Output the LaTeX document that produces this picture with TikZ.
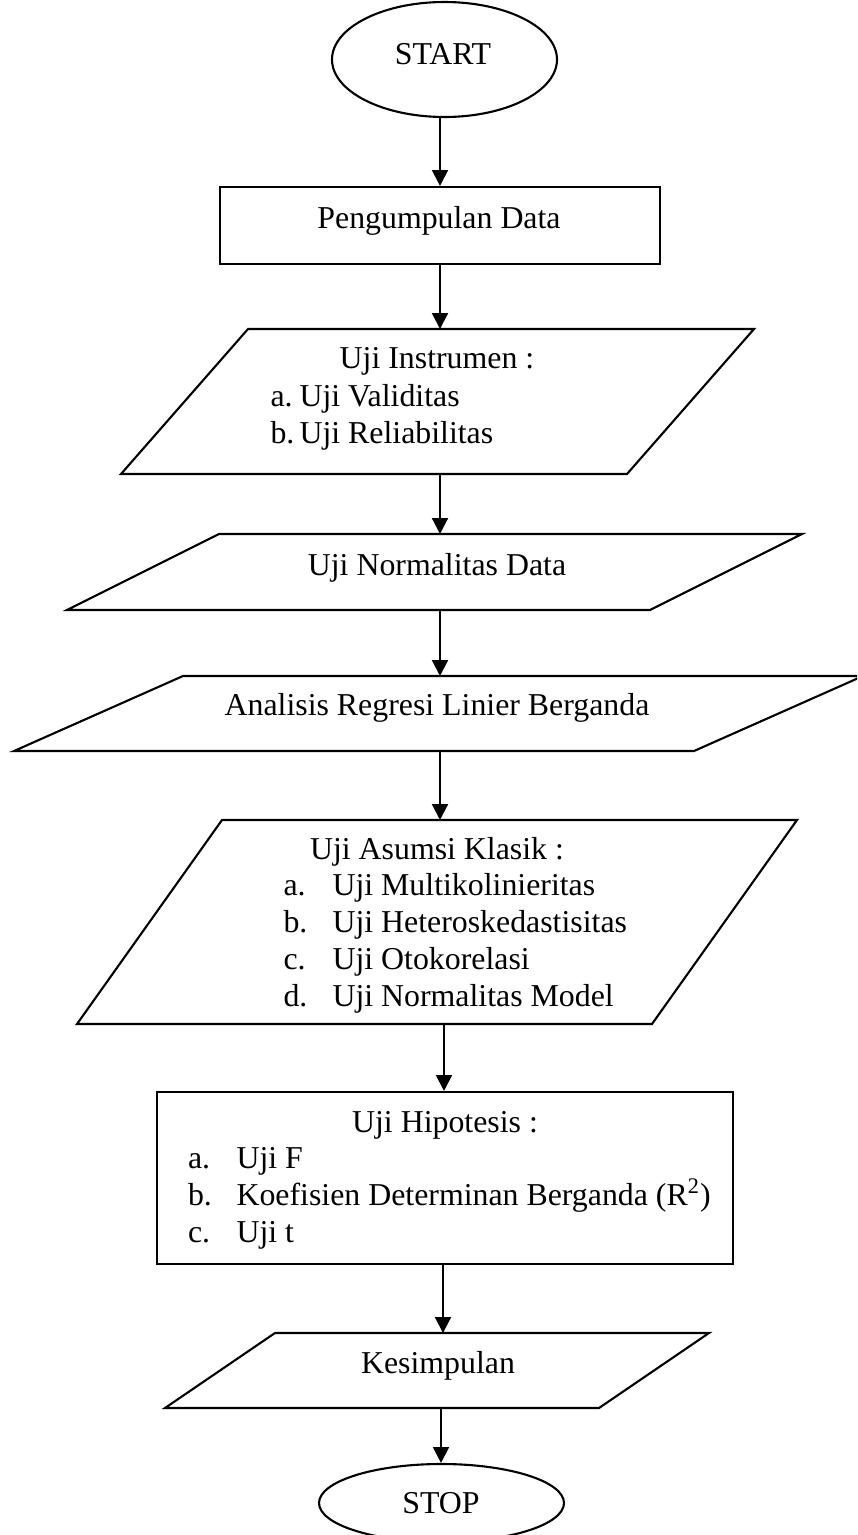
\documentclass[tikz,border=0pt]{standalone}
\usepackage{fontspec}
\setmainfont{Liberation Serif}
\usetikzlibrary{shapes.geometric,arrows.meta}
\begin{document}
\begin{tikzpicture}[x=0.38pt,y=-0.38pt,
  box/.style={draw, line width=0.8pt},
  termbox/.style={box, ellipse, inner sep=0pt},
  procbox/.style={box, rectangle, inner sep=0pt},
  conn/.style={line width=0.8pt, -{Triangle[length=6pt,width=6pt]}},
  txt/.style={inner sep=0pt, font=\fontsize{12.1}{14.1}\selectfont},
  title/.style={txt, anchor=base},
  item/.style={txt, anchor=base west},
]
\clip (0,0) rectangle (857,1535);

% terminals and process boxes
\node[termbox, minimum width=85.5pt, minimum height=43.7pt] (start) at (444.5,59.5) {};
\node[title] (start-t) at (443,64) {START};

\node[procbox, minimum width=167.2pt, minimum height=29.26pt] (pd) at (440,225.5) {};
\node[title] (pd-t) at (439,228) {Pengumpulan Data};

% input/output boxes (parallelograms)
\draw[box] (248,329) -- (754,329) -- (627,474) -- (121,474) -- cycle;
\coordinate (instr-top) at (440,329);
\coordinate (instr-bot) at (440,474);
\node[title] (instr-t) at (437,368) {Uji Instrumen :};
\node[item] (instr-a) at (270,406) {a.};
\node[item] (instr-at) at (299,406) {Uji Validitas};
\node[item] (instr-b) at (270,443) {b.};
\node[item] (instr-bt) at (299,443) {Uji Reliabilitas};

\draw[box] (219,534) -- (802,534) -- (650,610) -- (67,610) -- cycle;
\coordinate (norm-top) at (440,534);
\coordinate (norm-bot) at (440,610);
\node[title] (norm-t) at (437,575) {Uji Normalitas Data};

\draw[box] (183,676) -- (863,676) -- (694,751) -- (14,751) -- cycle;
\coordinate (reg-top) at (440,676);
\coordinate (reg-bot) at (440,751);
\node[title] (reg-t) at (437,715) {Analisis Regresi Linier Berganda};

\draw[box] (222,820) -- (797,820) -- (652,1024) -- (77,1024) -- cycle;
\coordinate (asm-top) at (440,820);
\coordinate (asm-bot) at (444,1024);
\node[title] (asm-t) at (437,859) {Uji Asumsi Klasik :};
\node[item] (asm-a) at (283,895) {a.};
\node[item] (asm-at) at (332,895) {Uji Multikolinieritas};
\node[item] (asm-b) at (283,932) {b.};
\node[item] (asm-bt) at (332,932) {Uji Heteroskedastisitas};
\node[item] (asm-c) at (283,969) {c.};
\node[item] (asm-ct) at (332,969) {Uji Otokorelasi};
\node[item] (asm-d) at (283,1006) {d.};
\node[item] (asm-dt) at (332,1006) {Uji Normalitas Model};

\node[procbox, minimum width=218.9pt, minimum height=65.36pt] (hyp) at (445,1178) {};
\node[title] (hyp-t) at (445,1132) {Uji Hipotesis :};
\node[item] (hyp-a) at (187.5,1168) {a.};
\node[item] (hyp-at) at (236,1168) {Uji F};
\node[item] (hyp-b) at (187.5,1205) {b.};
\node[item] (hyp-bt) at (236,1205) {Koefisien Determinan Berganda (R\textsuperscript{2})};
\node[item] (hyp-c) at (187.5,1242) {c.};
\node[item] (hyp-ct) at (236,1242) {Uji t};

\draw[box] (275,1333) -- (709,1333) -- (599,1408) -- (165,1408) -- cycle;
\coordinate (kes-top) at (443,1333);
\coordinate (kes-bot) at (441,1408);
\node[title] (kes-t) at (438,1373) {Kesimpulan};

\node[termbox, minimum width=93.1pt, minimum height=29.64pt] (stop) at (441.5,1503) {};
\node[title] (stop-t) at (441,1513) {STOP};

% connectors
\draw[conn] (start.south -| pd.north) -- (pd.north);
\draw[conn] (pd.south) -- (instr-top);
\draw[conn] (instr-bot) -- (norm-top);
\draw[conn] (norm-bot) -- (reg-top);
\draw[conn] (reg-bot) -- (asm-top);
\draw[conn] (asm-bot) -- (asm-bot |- hyp.north);
\draw[conn] (hyp.south -| kes-top) -- (kes-top);
\draw[conn] (kes-bot) -- (kes-bot |- stop.north);
\end{tikzpicture}
\end{document}
